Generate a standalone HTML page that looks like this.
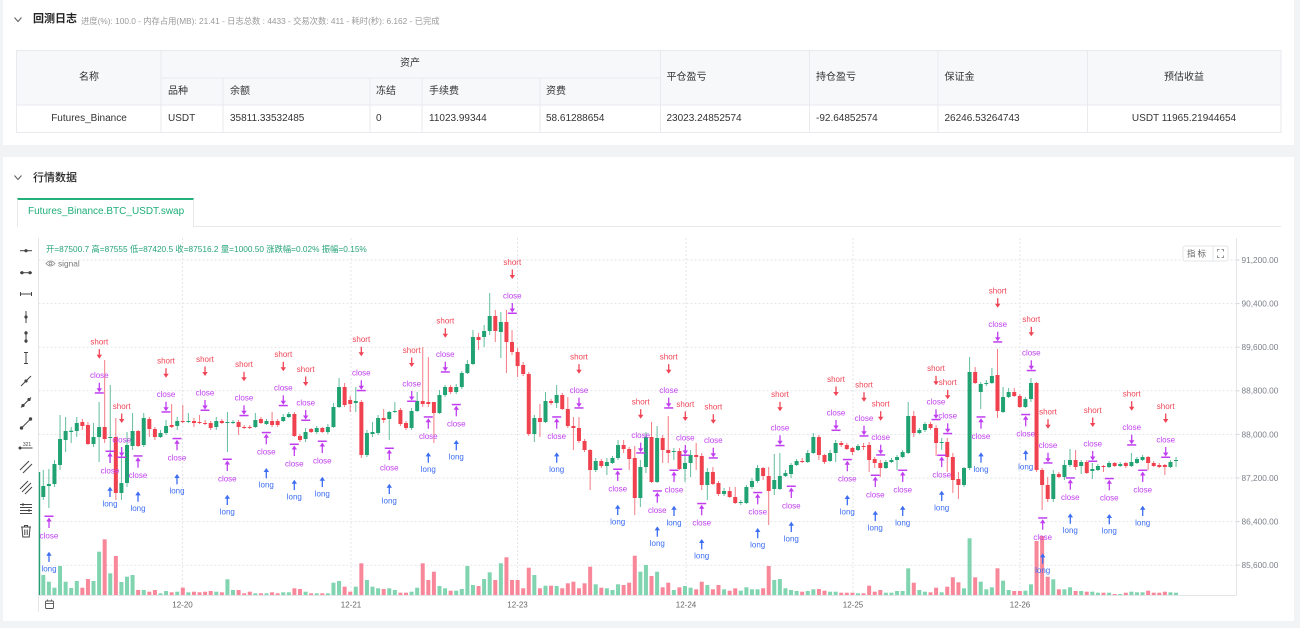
<!DOCTYPE html>
<html><head><meta charset="utf-8">
<style>
*{margin:0;padding:0;box-sizing:border-box}
body{width:1300px;height:628px;background:#f2f3f5;position:relative;overflow:hidden;font-family:"Liberation Sans","Noto Sans CJK SC",sans-serif;color:#333}
.card{position:absolute;background:#fff}
.t{position:absolute;white-space:nowrap;line-height:12px;font-size:10px;color:#333;z-index:2}
.c{transform:translateX(-50%)}
</style></head><body>
<div class="card" style="left:3px;top:0;width:1291px;height:145px"></div>
<div class="card" style="left:3px;top:157px;width:1291px;height:464px"></div>

<!-- card 1 header -->
<div class="t" style="left:33px;top:13px;font-size:11px;font-weight:bold;color:#222">回测日志</div>
<div class="t" style="left:81px;top:14.5px;font-size:8.3px;color:#9a9a9a">进度(%): 100.0 - 内存占用(MB): 21.41 - 日志总数 : 4433 - 交易次数: 411 - 耗时(秒): 6.162 - 已完成</div>

<!-- card 2 header -->
<div class="t" style="left:33px;top:172px;font-size:11px;font-weight:500;color:#222">行情数据</div>
<div style="position:absolute;left:16.5px;top:198px;width:177px;height:29px;border:1px solid #e6e8eb;border-top:2px solid #22b07d;border-bottom:none;background:#fff;z-index:1"></div>
<div class="t" style="left:28px;top:206px;font-size:10px;color:#1fae78">Futures_Binance.BTC_USDT.swap</div>

<!-- table texts -->
<div class="t c" style="left:89px;top:72px">名称</div>
<div class="t c" style="left:410px;top:58px">资产</div>
<div class="t" style="left:168px;top:85.5px">品种</div>
<div class="t" style="left:230px;top:85.5px">余额</div>
<div class="t" style="left:376px;top:85.5px">冻结</div>
<div class="t" style="left:429px;top:85.5px">手续费</div>
<div class="t" style="left:546px;top:85.5px">资费</div>
<div class="t" style="left:666.5px;top:72px">平仓盈亏</div>
<div class="t" style="left:816px;top:72px">持仓盈亏</div>
<div class="t" style="left:944.5px;top:72px">保证金</div>
<div class="t c" style="left:1184px;top:72px">预估收益</div>
<div class="t c" style="left:89px;top:113px">Futures_Binance</div>
<div class="t" style="left:168px;top:113px">USDT</div>
<div class="t" style="left:230px;top:113px">35811.33532485</div>
<div class="t" style="left:376px;top:113px">0</div>
<div class="t" style="left:429px;top:113px">11023.99344</div>
<div class="t" style="left:546px;top:113px">58.61288654</div>
<div class="t" style="left:666.5px;top:113px">23023.24852574</div>
<div class="t" style="left:816px;top:113px">-92.64852574</div>
<div class="t" style="left:944.5px;top:113px">26246.53264743</div>
<div class="t c" style="left:1184px;top:113px">USDT 11965.21944654</div>

<svg id="sv" width="1300" height="628" style="position:absolute;left:0;top:0;z-index:0" font-family="Liberation Sans, Noto Sans CJK SC, sans-serif">
<!-- chevrons -->
<polyline points="14.5,17.5 18,21.5 21.5,17.5" fill="none" stroke="#666" stroke-width="1.1"/>
<polyline points="14.5,175.5 18,179.5 21.5,175.5" fill="none" stroke="#666" stroke-width="1.1"/>
<!-- table -->
<rect x="16.5" y="50.5" width="1264.5" height="54.5" fill="#f7f8fa"/>
<rect x="16.5" y="50.5" width="1264.5" height="82" fill="none" stroke="#e8eaed"/>
<g stroke="#e8eaed" stroke-width="1">
<line x1="161" y1="50.5" x2="161" y2="132.5"/>
<line x1="660.5" y1="50.5" x2="660.5" y2="132.5"/>
<line x1="809.5" y1="50.5" x2="809.5" y2="132.5"/>
<line x1="938" y1="50.5" x2="938" y2="132.5"/>
<line x1="1087.5" y1="50.5" x2="1087.5" y2="132.5"/>
<line x1="223" y1="78" x2="223" y2="132.5"/>
<line x1="370" y1="78" x2="370" y2="132.5"/>
<line x1="422" y1="78" x2="422" y2="132.5"/>
<line x1="540" y1="78" x2="540" y2="132.5"/>
<line x1="161" y1="78" x2="660.5" y2="78"/>
<line x1="16.5" y1="105" x2="1281" y2="105"/>
</g>
<!-- tab underline -->
<line x1="193.5" y1="226.5" x2="1281" y2="226.5" stroke="#e6e8eb"/>
<g id="chart"></g>
</svg>

<script>
(function(){
var D=["g486,497,470,500","g484,486,469,508","g464,484,460,487","g439,465,415,470","g431,440,417,452","g430.7,432,427,443","g423,431,417,437","r422,426,419,430","r425,444,422,445","g437,444,423,447",
"g427,437,402,462","r427,439,360,443","g437,438,385,463","r437,493,418,500","g483,493,447,500","g445,483,432,487","g431,446,413,450","r431,446,430,447","g418,445,413,447","r419,429,417,437",
"r429,437,427,440","g433,437,430,438","g426,433,420,435","r425,427,404,428","g421,426,417,430","r421,422,405,423","g421,422,413,423","r421,423,418,427","r422,423,415,424","r423,424,420,425",
"r423,428,421,430","g421,427,417,430","r421,423,419,424","g422,423,412,452","g422,423,420,424","r422,427,420,435","r427,428,425,429","r427,428,425,429","g420,427,413,428","r419,423,417,424",
"g421,424,419,425","r421,425,412,427","r421,425,419,427","g417,421,414,422","g414,417,412,418","r414,436,412,437","r436,440,434,442","g432,439,428,442","r429,432,428,433","g428,432,426,434",
"r428,432,427,433","g427,432,424,434","g407,427,403,428","g387,407,378,408","r387,405,383,407","r400,404,396,412","g401,403,387,412","r402,455,400,458","g433,455,430,457","g432,434,422,437",
"g418,433,415,435","r418,420,409,423","g412,419,411,440","g411,412,402,413","r410,424,408,426","r423,428,421,430","g411,428,408,430","g401,411,392,412","r401,404,347,407","r402,404,357,407",
"r402,413,402,443","g395,413,390,414","g387,395,385,397","r387,392,385,394","g387,392,384,394","g373,387,371,389","g364,373,360,374","g337,364,330,365","r337,340,333,350","g331,337,325,347",
"g316,331,293,335","r316,331,310,342","g322,332,312,358","r322,342,310,373","r342,352,330,355","r352,366,348,377","r365,374,362,376","r374,434,372,436","g418,434,415,442","r418,422,404,437",
"g401,422,392,423","r401,403,399,405","g395,403,385,408","r395,409,393,410","r409,426,397,428","r426,428,417,450","r428,441,417,443","r441,450,439,452","r450,470,449,490","g461,470,458,472",
"r461,466,459,468","g462,466,458,475","g458,463,456,464","g445,458,440,460","r445,449,440,453","r449,459,447,470","r458,498,446,515","g467,498,460,507","g437,467,432,473","r437,482,422,483",
"g438,482,426,483","r438,450,435,463","r450,453,416,463","g451,452,448,460","r451,469,448,470","g463,469,450,482","g455,463,450,477","r455,457,443,470","r456,485,453,490","g472,485,468,500",
"r472,484,467,485","r483,494,481,496","g491,494,488,496","r491,497,487,498","r497,503,487,504","g502,503,500,505","g487,503,485,504","g481,487,478,489","g468,481,465,483","r468,476,467,480",
"r476,491,467,525","g480,489,454,495","g476,489,453,490","g473,476,470,477","g465,474,463,478","g461,465,459,466","r461,462,458,463","g453,462,450,463","g437,453,433,454","r437,455,435,460",
"r455,462,454,464","g453,461,450,462","g443,453,440,462","r443,445,441,447","r445,449,443,450","r448,452,447,455","g446,450,444,451","r446,447,443,450","r445,460,442,472","r459,463,457,468",
"r463,468,460,477","g462,468,460,469","g460,462,458,463","g457,460,455,470","g452,457,450,458","g416,453,402,454","r416,433,411,437","g430,433,428,434","g424,430,422,432","r424,428,422,430",
"r428,443,425,456","g442,443,438,450","r442,457,438,472","r457,480,453,493","r479,485,472,499","g468,485,467,487","g372,468,357,470","r372,383,367,384","g384,392,382,409","g383,384,380,386",
"g376,383,368,384","r375,411,349,418","g397,412,387,413","g392,397,388,398","r392,396,388,397","r396,407,394,408","g399,407,397,408","g383,399,378,402","r383,470,382,472","r470,485,468,510",
"r485,499,477,502","g474,499,470,502","r474,477,472,478","g465,477,460,480","g460,465,449,467","r460,467,450,470","g462,466,460,474","r462,473,460,474","g469,471,463,479","g466,470,464,471",
"r466,467,465,472","g463,467,461,468","r463,466,462,467","g464,466,462,467","r463,466,462,468","g462,466,453,467","g459,463,457,464","g457,460,455,461","r457,463,456,470","r463,466,461,467",
"r465,467,463,468","r465,467,464,475","g462,467,460,468","g460,461,457,467"];
var V=[575,581.7,587.7,566,581.7,588,581,587.7,579,581,551.7,539.3,573.3,556,582,576.7,575,590,590,591.7,590,593.3,591,592.3,591.7,587.7,592.3,591.7,592.3,591.7,591,591.7,592.3,579.3,590,590,593.3,591.7,593.3,593.3,593.3,592.3,593.3,592.3,592.3,588.3,589,591.7,593.3,593.3,593.3,593.3,
582.7,581,586.7,591.7,586.7,563.3,580,586.7,588.3,589,588.3,590,592.7,592.7,591.7,587.7,563.3,580,571.7,586,588.3,590.7,590.7,589,566,585,586,579,572.3,580,563.3,557.3,580,580,588.3,567.7,575,588.3,585.7,585.7,586,588.3,583.3,581.7,588.3,583.3,566.7,584.3,587.7,588.3,590,584.3,
585,582.7,555.7,571.7,565,576,571.7,587.3,582.7,590,587.3,586,587.7,589.3,581.7,585,589.3,585,589.3,590.7,588.3,590.7,587.3,589.3,589.3,588.3,566,580,579,588.3,590,591,591.7,591,589.3,589,590.7,591.7,591.7,592.7,592.7,592.7,593.3,593.3,585.7,591.7,590,592.7,592.7,591,591,568.3,
582.7,590,591.7,592.3,587.7,592.3,586.7,577.3,582.3,588.3,538.3,577.3,581.7,589.3,587.3,568.3,580.7,590,591,591,590.7,584.3,541,536,576.7,579.3,589.3,589.3,587.3,591,591,591.7,591.7,592.7,592.7,592.7,594,594,592.7,591.7,592.3,592.3,590.7,592.7,592.7,591.7,592.3,592.7];
var S=[[99.3,341.7],[121.7,406],[166,360.7],[205,359],[244,364.3],[283.3,354.3],[305.7,369],[361.3,339.3],[411.7,350],[445.3,320.7],[512.3,262],[579,356.7],[640.7,401.7],[668.7,356.7],[685.3,404],[713.3,406.7],[780,394.3],[836,379],[864,384.7],[880.7,403.7],[936,368.3],[947.7,382.3],[997.7,290.7],[1031.3,319.3],[1048,411.7],[1092.7,410],[1131.7,393.7],[1165.7,406]];
var L=[[49,516],[110,451],[138,455.7],[177,438.3],[227.3,459],[266.3,432.3],[294.3,444],[322.3,441],[389.3,448],[428.3,416.7],[456.3,404.3],[556.7,416.7],[617.7,469],[657.3,490.7],[674,470],[701.7,503.3],[757.7,492.3],[791.3,486],[847.3,459.3],[875.3,475],[902.7,470],[941.7,455],[981,416.7],[1025.7,414.3],[1042.7,517.7],[1070.3,477.7],[1109.3,478.3],[1142.7,470]];
var G='#21a272',R='#f0414f',VG='#80d4b0',VR='#f8879a',RS='#ef4456',P='#c03ef0',BL='#3c6df3';
var s='';
var gy=[260,303.6,347.2,390.8,434.4,478,521.6,565.2];
var yl=['91,200.00','90,400.00','89,600.00','88,800.00','88,000.00','87,200.00','86,400.00','85,600.00'];
gy.forEach(function(y,k){
 s+='<line x1="38.5" x2="1236" y1="'+y+'" y2="'+y+'" stroke="#e3e5e8" stroke-dasharray="2,2"/>';
 s+='<line x1="1236" x2="1239.5" y1="'+y+'" y2="'+y+'" stroke="#cfd2d6"/>';
 s+='<text x="1241.5" y="'+(y+2.9)+'" font-size="8.3" fill="#7d818a">'+yl[k]+'</text>';
});
var gx=[182.5,351,517.5,686,853,1020],xl=['12-20','12-21','12-23','12-24','12-25','12-26'];
gx.forEach(function(x,k){
 s+='<line x1="'+x+'" x2="'+x+'" y1="238" y2="595" stroke="#e3e5e8" stroke-dasharray="2,2"/>';
 s+='<text x="'+x+'" y="607.3" font-size="8" fill="#666" text-anchor="middle">'+xl[k]+'</text>';
});
s+='<line x1="38.5" x2="38.5" y1="238" y2="612" stroke="#e3e5e8"/>';
s+='<line x1="1236.5" x2="1236.5" y1="238" y2="595" stroke="#e3e5e8"/>';
s+='<line x1="38.5" x2="1236.5" y1="595.5" y2="595.5" stroke="#e3e5e8"/>';
s+='<line x1="39.5" x2="39.5" y1="472" y2="595" stroke="'+G+'" stroke-width="1.4"/>';
D.forEach(function(d,i){var cx=43.3+5.58*i,v=V[i];
 s+='<rect x="'+(cx-2).toFixed(2)+'" y="'+v+'" width="4" height="'+(595-v).toFixed(2)+'" fill="'+(d[0]=='g'?VG:VR)+'"/>';});
D.forEach(function(d,i){var cx=43.3+5.58*i,c=d[0]=='g'?G:R,a=d.slice(1).split(',').map(Number);
 s+='<line x1="'+cx.toFixed(2)+'" x2="'+cx.toFixed(2)+'" y1="'+a[2]+'" y2="'+a[3]+'" stroke="'+c+'" stroke-opacity=".7"/>';
 s+='<rect x="'+(cx-2).toFixed(2)+'" y="'+a[0]+'" width="4" height="'+Math.max(1,a[1]-a[0]).toFixed(2)+'" fill="'+c+'"/>';});
function txt(x,cy,t,c){return '<text x="'+x+'" y="'+(cy+2.8)+'" font-size="8" fill="'+c+'" text-anchor="middle">'+t+'</text>';}
function aD(x,y1,y2,c){return '<line x1="'+x+'" x2="'+x+'" y1="'+y1+'" y2="'+(y2-3)+'" stroke="'+c+'" stroke-width="1.3"/><path d="M'+(x-2.7)+' '+(y2-4)+'L'+(x+2.7)+' '+(y2-4)+'L'+x+' '+y2+'Z" fill="'+c+'"/>';}
function aU(x,y1,y2,c){return '<line x1="'+x+'" x2="'+x+'" y1="'+(y1+3)+'" y2="'+y2+'" stroke="'+c+'" stroke-width="1.3"/><path d="M'+(x-2.7)+' '+(y1+4)+'L'+(x+2.7)+' '+(y1+4)+'L'+x+' '+y1+'Z" fill="'+c+'"/>';}
S.forEach(function(p){var x=p[0],T=p[1];
 s+=txt(x,T,'short',RS)+aD(x,T+7.5,T+17,RS)+txt(x,T+33.5,'close',P)+aD(x,T+41,T+50.5,P);
 s+='<rect x="'+(x-4.5)+'" y="'+(T+50.5)+'" width="9" height="1.5" fill="'+P+'"/>';});
L.forEach(function(p){var x=p[0],B=p[1];
 s+='<rect x="'+(x-4.5)+'" y="'+(B-0.5)+'" width="9" height="1.5" fill="'+P+'"/>';
 s+=aU(x,B+1.5,B+12,P)+txt(x,B+19.5,'close',P)+aU(x,B+35.7,B+46,BL)+txt(x,B+52.5,'long',BL);});
s+='<text x="46" y="252" font-size="8.3" fill="#27a47a">开=87500.7 高=87555 低=87420.5 收=87516.2 量=1000.50 涨跌幅=0.02% 振幅=0.15%</text>';
s+='<path d="M46 263.5Q50.5 258.5 55 263.5Q50.5 268.5 46 263.5Z" fill="none" stroke="#888" stroke-width=".8"/><circle cx="50.5" cy="263.5" r="1.4" fill="none" stroke="#888" stroke-width=".8"/>';
s+='<text x="58" y="266.3" font-size="8.3" fill="#777">signal</text>';
s+='<rect x="1183" y="246" width="45" height="15" rx="2" fill="#fff" stroke="#e3e5e8"/>';
s+='<text x="1197.5" y="256.5" font-size="8.5" fill="#666" text-anchor="middle" letter-spacing="2">指标</text>';
s+='<line x1="1213" x2="1213" y1="246" y2="261" stroke="#e3e5e8"/>';
s+='<g stroke="#777" stroke-width=".8" fill="none"><path d="M1217.5 251.5v-2h2M1223.5 251.5v-2h-2M1217.5 255.5v2h2M1223.5 255.5v2h-2"/></g>';
s+='<g stroke="#555" stroke-width=".9" fill="none"><rect x="45.5" y="601" width="8" height="7.5" rx="1"/><line x1="45.5" x2="53.5" y1="603.5" y2="603.5"/><line x1="47.5" x2="47.5" y1="599.5" y2="601.5"/><line x1="51.5" x2="51.5" y1="599.5" y2="601.5"/></g>';
var t='<g stroke="#444" stroke-width="1" fill="#444">';
t+='<line x1="20" x2="32" y1="250.7" y2="250.7"/><circle cx="26" cy="250.7" r="1.1"/>';
t+='<line x1="20" x2="32" y1="272.7" y2="272.7"/><circle cx="22" cy="272.7" r="1.1"/><circle cx="30" cy="272.7" r="1.1"/>';
t+='<line x1="20" x2="32" y1="294" y2="294"/><line x1="20.5" x2="20.5" y1="292" y2="296"/><line x1="31.5" x2="31.5" y1="292" y2="296"/>';
t+='<line x1="26" x2="26" y1="311" y2="323"/><circle cx="26" cy="317" r="1.1"/>';
t+='<line x1="26" x2="26" y1="331" y2="343"/><circle cx="26" cy="333" r="1.1"/><circle cx="26" cy="341" r="1.1"/>';
t+='<line x1="26" x2="26" y1="352" y2="364"/><line x1="24" x2="28" y1="352.5" y2="352.5"/><line x1="24" x2="28" y1="363.5" y2="363.5"/>';
t+='<line x1="21" x2="31" y1="386" y2="376"/><circle cx="26" cy="381" r="1.1"/>';
t+='<line x1="21" x2="31" y1="407.5" y2="397.5"/><circle cx="23" cy="405.5" r="1.1"/><circle cx="29" cy="399.5" r="1.1"/>';
t+='<line x1="21" x2="31" y1="428.5" y2="418.5"/><circle cx="21.5" cy="428" r="1.2"/><circle cx="30.5" cy="419" r="1.2"/>';
t+='<line x1="19.5" x2="32.5" y1="448" y2="448"/><circle cx="20" cy="448" r="1"/>';
t+='</g>';
t+='<text x="27" y="446" font-size="5" fill="#444" text-anchor="middle">321</text>';
t+='<g stroke="#444" stroke-width="1" fill="none">';
t+='<line x1="20" x2="29" y1="470" y2="461"/><line x1="23" x2="32" y1="473" y2="464"/>';
t+='<line x1="20" x2="28" y1="489" y2="481"/><line x1="22" x2="31" y1="492" y2="483"/><line x1="25" x2="32" y1="494" y2="487"/>';
t+='<line x1="20" x2="32" y1="504.5" y2="504.5"/><line x1="20" x2="32" y1="507.5" y2="507.5"/><line x1="20" x2="32" y1="510.5" y2="510.5"/><line x1="20" x2="32" y1="513.5" y2="513.5"/><line x1="23" x2="23" y1="503" y2="506"/><line x1="29" x2="29" y1="509" y2="512"/>';
t+='<path d="M21 527h10M24.5 527v-1.5h3v1.5M22 527.5l.8 9.5h6.4l.8-9.5M24.8 529.5v5.5M27.2 529.5v5.5"/>';
t+='</g>';
s+=t;
document.getElementById('chart').innerHTML=s;
})();
</script>
</body></html>
